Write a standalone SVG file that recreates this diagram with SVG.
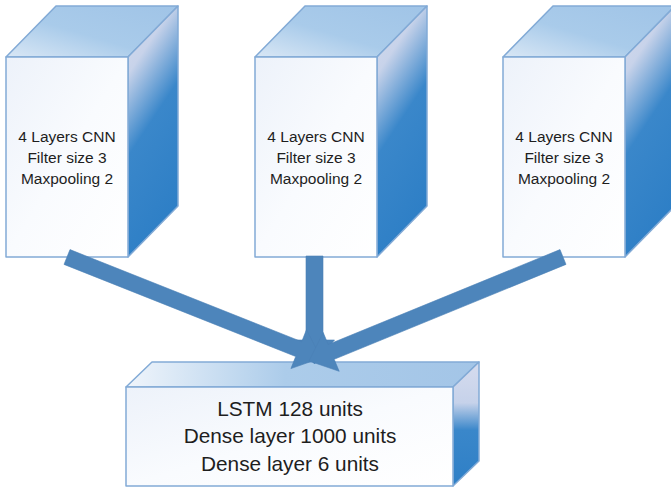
<svg xmlns="http://www.w3.org/2000/svg" width="671" height="488" viewBox="0 0 671 488">
  <style>
    .edge { stroke: #82aad6; stroke-width: 1.5; stroke-linejoin: round; }
    .front { fill: url(#gFront); }
    .top { fill: url(#gTop); }
    .side { fill: url(#gSide); }
    .btop { fill: url(#gTopB); }
    .bside { fill: url(#gSideB); }
    .lbl { font-family: "Liberation Sans", Arial, sans-serif; fill: #1e1e1e; text-anchor: middle; }
    .small { font-size: 15.5px; }
    .big { font-size: 20.8px; }
    .arrow { fill: #4d85bb; stroke: #4a80b6; stroke-width: 0.6; stroke-linejoin: miter; }
  </style>
  <defs>
    <linearGradient id="gFront" x1="0" y1="0" x2="1" y2="1">
      <stop offset="0" stop-color="#edf2fa"/>
      <stop offset="0.5" stop-color="#f9fbfe"/>
      <stop offset="1" stop-color="#ffffff"/>
    </linearGradient>
    <linearGradient id="gTop" x1="0" y1="1" x2="1" y2="0">
      <stop offset="0" stop-color="#d9e7f5"/>
      <stop offset="0.45" stop-color="#a9cbea"/>
      <stop offset="1" stop-color="#a0c4e7"/>
    </linearGradient>
    <linearGradient id="gSide" x1="0" y1="0" x2="0.3" y2="1">
      <stop offset="0" stop-color="#d6dcee"/>
      <stop offset="0.25" stop-color="#c8d3ea"/>
      <stop offset="0.55" stop-color="#3a87ca"/>
      <stop offset="1" stop-color="#2e7fc6"/>
    </linearGradient>
    <linearGradient id="gTopB" x1="0" y1="0.5" x2="1" y2="0.5">
      <stop offset="0" stop-color="#f0f5fb"/>
      <stop offset="0.45" stop-color="#acccea"/>
      <stop offset="1" stop-color="#a3c5e7"/>
    </linearGradient>
    <linearGradient id="gSideB" x1="0" y1="0" x2="0" y2="1">
      <stop offset="0" stop-color="#d6dcee"/>
      <stop offset="0.33" stop-color="#c6d2ea"/>
      <stop offset="0.55" stop-color="#3a87ca"/>
      <stop offset="1" stop-color="#2e7fc6"/>
    </linearGradient>
  </defs>

  <g id="cnn1">
    <polygon class="top edge" points="6,57 56,6 178,6 128,57"/>
    <polygon class="side edge" points="128,57 178,6 178,206 128,257"/>
    <rect class="front edge" x="6" y="57" width="122" height="200"/>
    <text class="lbl small" x="67" y="142">4 Layers CNN</text>
    <text class="lbl small" x="67" y="163">Filter size 3</text>
    <text class="lbl small" x="67" y="184">Maxpooling 2</text>
  </g>

  <g id="cnn2">
    <polygon class="top edge" points="255,57 305,6 427,6 377,57"/>
    <polygon class="side edge" points="377,57 427,6 427,206 377,257"/>
    <rect class="front edge" x="255" y="57" width="122" height="200"/>
    <text class="lbl small" x="316" y="142">4 Layers CNN</text>
    <text class="lbl small" x="316" y="163">Filter size 3</text>
    <text class="lbl small" x="316" y="184">Maxpooling 2</text>
  </g>

  <g id="cnn3">
    <polygon class="top edge" points="503,57 553,6 675,6 625,57"/>
    <polygon class="side edge" points="625,57 675,6 675,206 625,257"/>
    <rect class="front edge" x="503" y="57" width="122" height="200"/>
    <text class="lbl small" x="564" y="142">4 Layers CNN</text>
    <text class="lbl small" x="564" y="163">Filter size 3</text>
    <text class="lbl small" x="564" y="184">Maxpooling 2</text>
  </g>

  <g id="lstm">
    <polygon class="btop edge" points="126,387 152,362 479,362 453,387"/>
    <polygon class="bside edge" points="453,387 479,362 479,461 453,486"/>
    <rect class="front edge" x="126" y="387" width="327" height="99"/>
    <text class="lbl big" x="290" y="416">LSTM 128 units</text>
    <text class="lbl big" x="290" y="443">Dense layer 1000 units</text>
    <text class="lbl big" x="290" y="471">Dense layer 6 units</text>
  </g>

  <g id="connectors">
    <polygon class="arrow" points="306,256 306,340 294.5,340 314.5,364 334.5,340 323,340 323,256"/>
    <polygon class="arrow" points="64,264.4 70,249.6 301.7,341.7 306.5,329.6 321,358 290.9,368.6 295.7,356.5"/>
    <polygon class="arrow" points="566,264.4 560,249.6 328.2,344.5 323.2,332.5 309,361 339.2,371.3 334.2,359.3"/>
  </g>
</svg>
